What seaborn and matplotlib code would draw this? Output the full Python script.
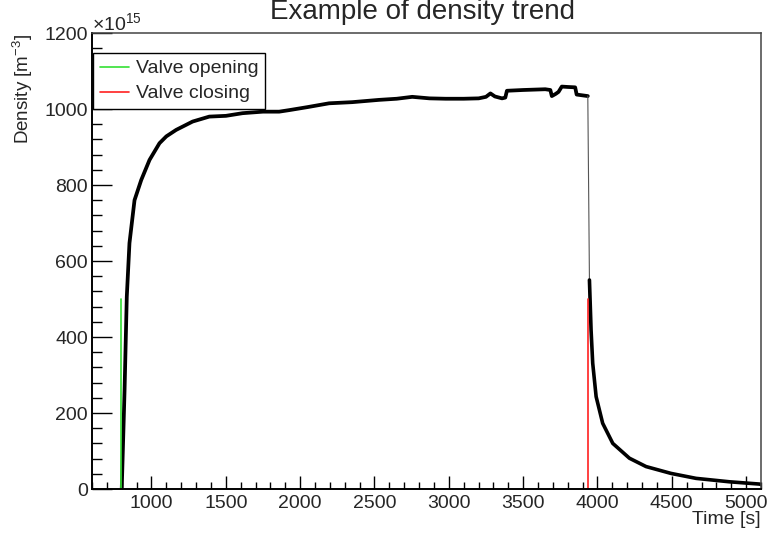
import numpy as np
import pandas as pd
import matplotlib
matplotlib.use("Agg")
import matplotlib.pyplot as plt
from matplotlib.ticker import MultipleLocator
import seaborn as sns

# ---- data (density in units of 1e15 m^-3) ----
rise_time = [800, 819, 834, 852, 886, 931, 987, 1054]
rise_density = [0, 260, 506, 647, 760, 813, 866, 910]

plateau_time = [1054, 1100, 1166, 1277, 1389, 1501, 1613, 1750, 1859, 1926, 2050,
                2195, 2350, 2530, 2650, 2754, 2870, 2978, 3100, 3201, 3250, 3280,
                3310, 3358, 3380, 3391, 3500, 3649, 3683, 3693, 3720, 3738, 3760,
                3800, 3850, 3860, 3935]
plateau_density = [910, 928, 945, 967, 980, 982, 989, 993, 993, 997, 1005,
                   1015, 1018, 1024, 1027, 1032, 1028, 1027, 1027, 1028, 1032, 1041,
                   1033, 1028, 1030, 1048, 1050, 1052, 1050, 1034, 1040, 1045, 1059,
                   1058, 1057, 1038, 1034]

drop_time = [3935, 3946]
drop_density = [1034, 550]

decay_time = [3946, 3957, 3968, 3991, 4035, 4103, 4215, 4327, 4495, 4663, 4887, 5089, 5100]
decay_density = [550, 418, 331, 243, 173, 120, 81, 59, 41, 28, 19, 13, 12]

valve_open_time = [792, 792]
valve_close_time = [3935, 3935]
valve_marker = [0, 500]

x_ticks = [1000, 1500, 2000, 2500, 3000, 3500, 4000, 4500, 5000]
y_ticks = [0, 200, 400, 600, 800, 1000, 1200]

# ---- style ----
sns.set_style("white")
plt.rcParams["font.family"] = ["Liberation Sans", "DejaVu Sans"]
plt.rcParams["mathtext.fontset"] = "custom"
plt.rcParams["mathtext.rm"] = "Liberation Sans"
plt.rcParams["mathtext.it"] = "Liberation Sans:italic"
plt.rcParams["mathtext.bf"] = "Liberation Sans:bold"

fig = plt.figure(figsize=(7.68, 5.34), dpi=100)
ax = fig.add_axes([92 / 768, 1 - 489 / 534, (761 - 92) / 768, (489 - 33) / 534])

def seg(t, d):
    return pd.DataFrame({"Time": t, "Density": d})

main_time = rise_time[:-1] + plateau_time
main_density = rise_density[:-1] + plateau_density

sns.lineplot(data=seg(main_time, main_density), x="Time", y="Density", ax=ax,
             color="black", linewidth=2.7, sort=False, estimator=None)
sns.lineplot(data=seg(drop_time, drop_density), x="Time", y="Density", ax=ax,
             color="#555555", linewidth=0.8, sort=False, estimator=None)
sns.lineplot(data=seg(decay_time, decay_density), x="Time", y="Density", ax=ax,
             color="black", linewidth=2.6, sort=False, estimator=None)

sns.lineplot(data=seg(valve_open_time, valve_marker), x="Time", y="Density", ax=ax,
             color="#33e033", linewidth=1.2, sort=False, estimator=None,
             label="Valve opening")
sns.lineplot(data=seg(valve_close_time, valve_marker), x="Time", y="Density", ax=ax,
             color="#ff2020", linewidth=1.2, sort=False, estimator=None,
             label="Valve closing")

ax.set_xlim(600, 5100)
ax.set_ylim(0, 1200)
ax.set_xticks(x_ticks)
ax.set_yticks(y_ticks)
ax.set_xticklabels([str(v) for v in x_ticks])
ax.set_yticklabels([str(v) for v in y_ticks])
ax.xaxis.set_minor_locator(MultipleLocator(100))
ax.yaxis.set_minor_locator(MultipleLocator(40))
ax.set_xlabel("")
ax.set_ylabel("")

ax.tick_params(which="both", direction="in", top=False, right=False,
               left=True, bottom=True, labelsize=14, width=1.0, color="black")
ax.tick_params(axis="y", which="major", length=14.4, pad=3)
ax.tick_params(axis="y", which="minor", length=7.2)
ax.tick_params(axis="x", which="major", length=9.7, pad=4.3)
ax.tick_params(axis="x", which="minor", length=5)

for s in ["left", "bottom"]:
    ax.spines[s].set_color("black")
    ax.spines[s].set_linewidth(1.4)
for s in ["top", "right"]:
    ax.spines[s].set_color("#444444")
    ax.spines[s].set_linewidth(1.1)

leg = ax.legend(loc="upper left", bbox_to_anchor=(0.0015, 0.956), borderaxespad=0,
                fontsize=14, frameon=True, fancybox=False, handlelength=1.5,
                handletextpad=0.35, borderpad=0.35, labelspacing=0.38)
leg.get_frame().set_edgecolor("black")
leg.get_frame().set_linewidth(1.0)
leg.get_frame().set_alpha(1)

fig.text(423 / 768, 1 - 19 / 534, "Example of density trend", ha="center",
         va="baseline", fontsize=20)
fig.text(92 / 768, 1 - 30 / 534, r"$\times$10$^{15}$", ha="left", va="baseline",
         fontsize=14)
fig.text(23 / 768, 1 - 34 / 534, r"Density [m$^{-3}$]", rotation=90, ha="center",
         va="top", fontsize=13.5)
fig.text(761 / 768, 1 - 520 / 534, "Time [s]", ha="right", va="center", fontsize=14)

fig.savefig("out.png", dpi=100)
